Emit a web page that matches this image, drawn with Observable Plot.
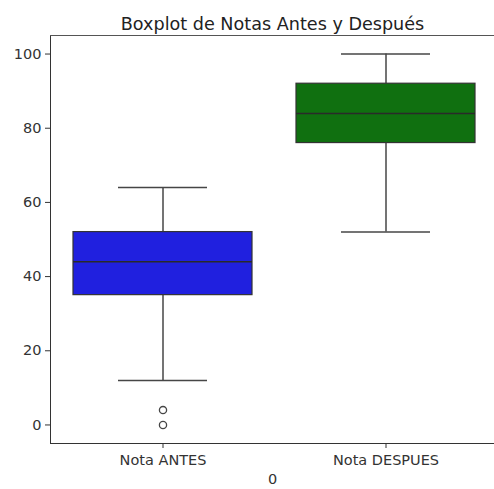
<!DOCTYPE html>
<html>
<head>
<meta charset="utf-8">
<script src="https://cdn.jsdelivr.net/npm/d3@7"></script>
<script src="https://cdn.jsdelivr.net/npm/@observablehq/plot@0.6"></script>
<style>
  html, body { margin: 0; padding: 0; background: #fff; overflow: hidden; }
  #chart { width: 494px; height: 489px; overflow: hidden; }
</style>
</head>
<body>
<div id="chart"></div>
<script>
// Summary statistics
const categories = ["Nota ANTES", "Nota DESPUES"];
const whiskerLow = [12, 52];
const q1 = [35, 76];
const median = [44, 84];
const q3 = [52, 92];
const whiskerHigh = [64, 100];
const fills = ["#2020df", "#107010"];
const outlierCategory = ["Nota ANTES", "Nota ANTES"];
const outlierValues = [4, 0];
const yTicks = [0, 20, 40, 60, 80, 100];
const titleText = "Boxplot de Notas Antes y Después";
const xLabel = "0";

const boxes = categories.map((c, i) => ({
  cat: c, lo: whiskerLow[i], q1: q1[i], med: median[i], q3: q3[i], hi: whiskerHigh[i], fill: fills[i]
}));
const outliers = outlierValues.map((v, i) => ({cat: outlierCategory[i], v}));

const lineColor = "#464646";
const spineColor = "#555";
const font = "DejaVu Sans, sans-serif";

const chart = Plot.plot({
  width: 494,
  height: 489,
  marginTop: 35,
  marginBottom: 46,
  marginLeft: 50,
  marginRight: 0,
  style: {fontFamily: font, fontSize: "14.5px", color: "#333", background: "#fff", overflow: "hidden"},
  x: {domain: categories, range: [50, 497], padding: 0, label: null, tickSize: 5, tickPadding: 6, line: true},
  y: {domain: [-5, 105], label: null, ticks: yTicks, tickSize: 5, tickPadding: 4, line: true},
  marks: [
    // top spine
    Plot.ruleY([105], {stroke: spineColor, strokeWidth: 1.2}),
    // whiskers
    Plot.ruleX(boxes, {x: "cat", y1: "lo", y2: "q1", stroke: lineColor, strokeWidth: 1.5}),
    Plot.ruleX(boxes, {x: "cat", y1: "q3", y2: "hi", stroke: lineColor, strokeWidth: 1.5}),
    // caps
    Plot.tickY(boxes, {x: "cat", y: "lo", stroke: lineColor, strokeWidth: 1.5, insetLeft: 67, insetRight: 67}),
    Plot.tickY(boxes, {x: "cat", y: "hi", stroke: lineColor, strokeWidth: 1.5, insetLeft: 67, insetRight: 67}),
    // boxes
    Plot.barY(boxes, {x: "cat", y1: "q1", y2: "q3", fill: "fill", stroke: "#333", strokeWidth: 1.2, insetLeft: 22, insetRight: 22}),
    // median
    Plot.tickY(boxes, {x: "cat", y: "med", stroke: "#2a2a2a", strokeWidth: 1.5, insetLeft: 22, insetRight: 22}),
    // outliers
    Plot.dot(outliers, {x: "cat", y: "v", r: 3.6, stroke: lineColor, strokeWidth: 1.3, fill: "none"}),
    // title and x label
    Plot.text([titleText], {frameAnchor: "top", dy: -18, fontSize: 17.6, fill: "#222", fontFamily: font}),
    Plot.text([xLabel], {frameAnchor: "bottom", dy: 40, fontSize: 14.5, fill: "#333", fontFamily: font})
  ]
});
document.getElementById("chart").appendChild(chart);
</script>
</body>
</html>
